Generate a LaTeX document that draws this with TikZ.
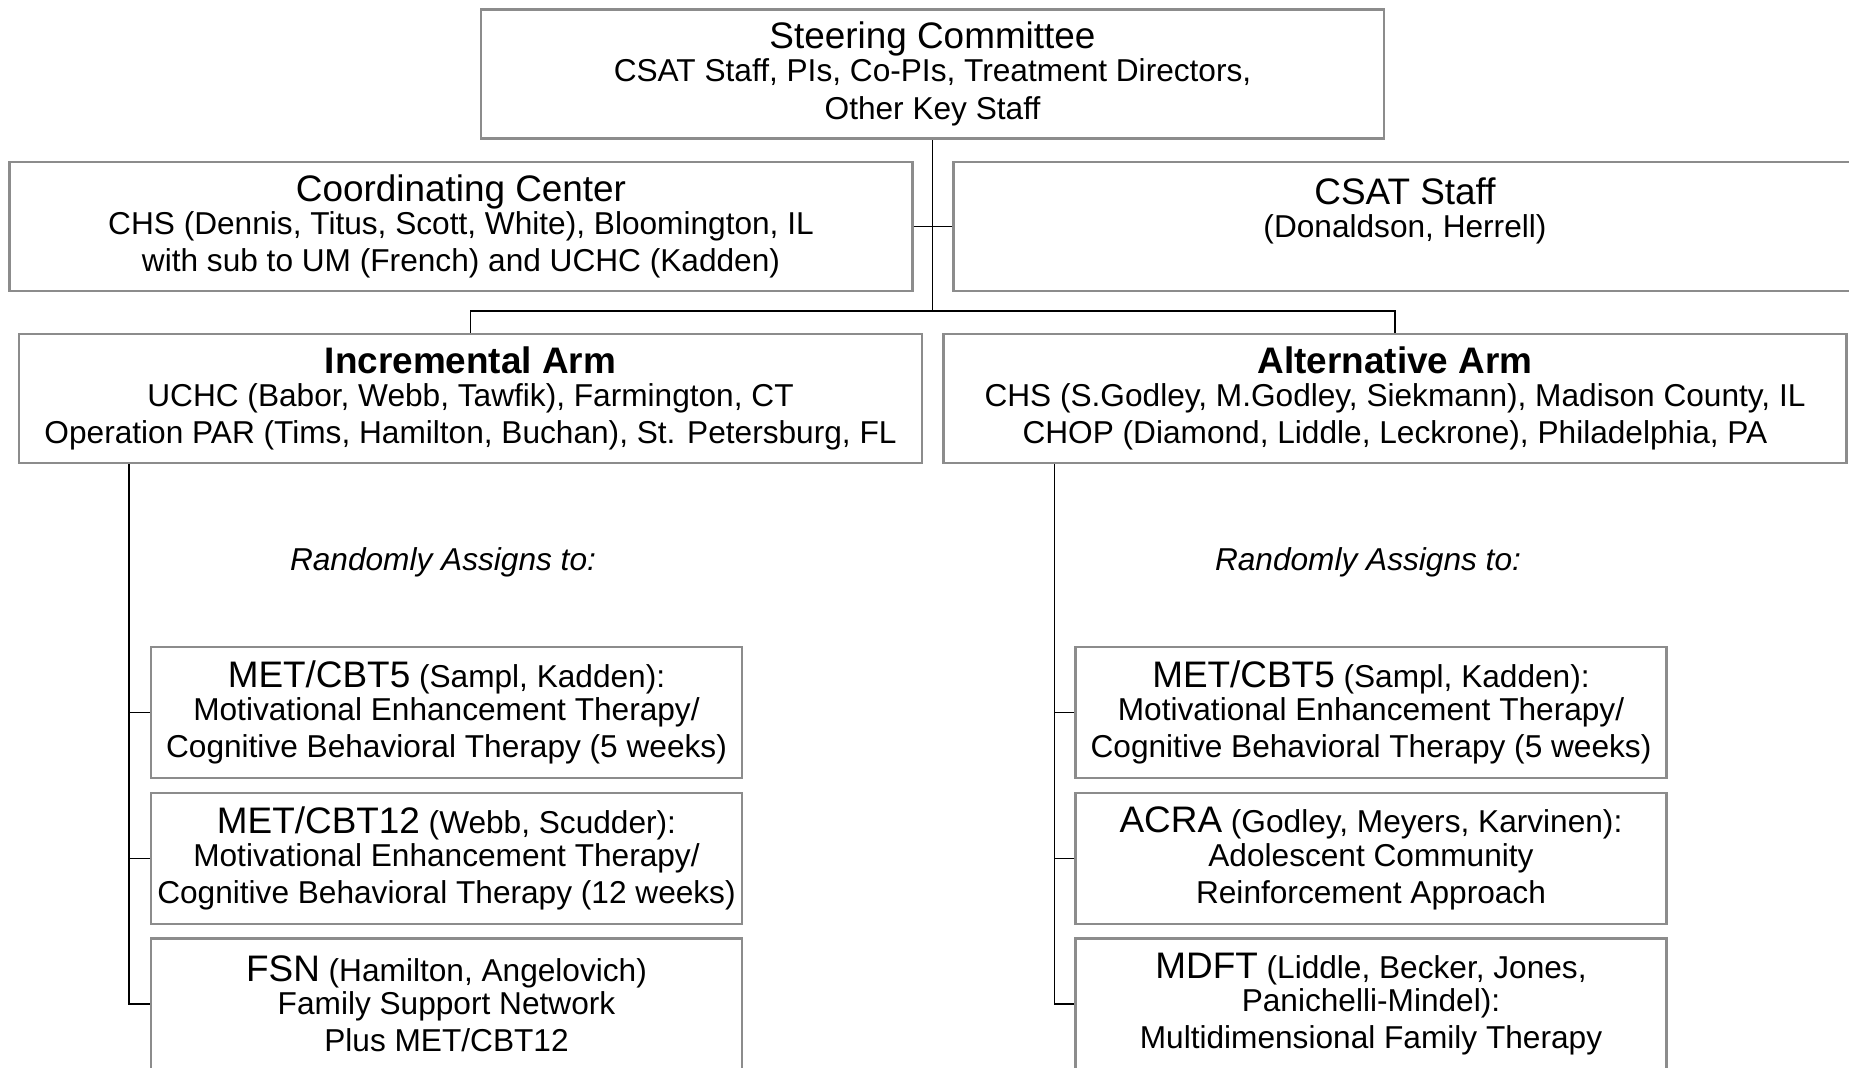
\documentclass[tikz,border=0pt]{standalone}
\usepackage{fontspec}
\setmainfont{Liberation Sans}
\usepackage{tikz}
\usetikzlibrary{positioning}

\newcommand{\headtxt}[1]{{\fontsize{10.5}{11}\selectfont #1}}

\begin{document}
\begin{tikzpicture}[
      block/.style={rectangle, draw=black!45, line width=0.6pt, fill=white, align=center, inner sep=0pt,
                    font=\fontsize{9}{10.6}\selectfont, minimum width=9.03cm, minimum height=1.29cm},
      therapy/.style={block, minimum width=5.91cm, minimum height=1.31cm},
      note/.style={font=\fontsize{9}{10.6}\selectfont\itshape},
      line/.style={draw, black, line width=0.5pt}
    ]
    \useasboundingbox (0,0) rectangle (18.49,-10.67);

    \node [block] (steer) at (9.325,-0.74) {\headtxt{Steering Committee}\\[-1.2pt]CSAT Staff, PIs, Co-PIs, Treatment Directors,\\Other Key Staff};
    \node [block] (coord) at (4.61,-2.265) {\headtxt{Coordinating Center}\\[-1.2pt]CHS (Dennis, Titus, Scott, White), Bloomington, IL\\with sub to UM (French) and UCHC (Kadden)};
    \node [block, right of=coord, node distance=9.44cm] (csat) {\headtxt{CSAT Staff}\\[-1.2pt](Donaldson, Herrell)\\\mbox{}};
    \node [block] (incr) at (4.705,-3.985) {\headtxt{\textbf{Incremental Arm}}\\[-1.2pt]UCHC (Babor, Webb, Tawfik), Farmington, CT\\Operation PAR (Tims, Hamilton, Buchan), St. Petersburg, FL};
    \node [block, right of=incr, node distance=9.245cm] (alt) {\headtxt{\textbf{Alternative Arm}}\\[-1.2pt]CHS (S.Godley, M.Godley, Siekmann), Madison County, IL\\CHOP (Diamond, Liddle, Leckrone), Philadelphia, PA};

    \node [note] (randl) at (4.43,-5.62) {Randomly Assigns to:};
    \node [note, right of=randl, node distance=9.25cm] (randr) {Randomly Assigns to:};

    \node [therapy] (metl) at (4.465,-7.125) {\headtxt{MET/CBT5} (Sampl, Kadden):\\[-1.2pt]Motivational Enhancement Therapy/\\Cognitive Behavioral Therapy (5 weeks)};
    \node [therapy, below of=metl, node distance=1.46cm] (met12) {\headtxt{MET/CBT12} (Webb, Scudder):\\[-1.2pt]Motivational Enhancement Therapy/\\Cognitive Behavioral Therapy (12 weeks)};
    \node [therapy, below of=met12, node distance=1.455cm] (fsn) {\headtxt{FSN} (Hamilton, Angelovich)\\[-1.2pt]Family Support Network\\Plus MET/CBT12};
    \node [therapy, right of=metl, node distance=9.245cm] (metr) {\headtxt{MET/CBT5} (Sampl, Kadden):\\[-1.2pt]Motivational Enhancement Therapy/\\Cognitive Behavioral Therapy (5 weeks)};
    \node [therapy, right of=met12, node distance=9.245cm] (acra) {\headtxt{ACRA} (Godley, Meyers, Karvinen):\\[-1.2pt]Adolescent Community\\Reinforcement Approach};
    \node [therapy, right of=fsn, node distance=9.245cm] (mdft) {\headtxt{MDFT} (Liddle, Becker, Jones,\\[-1.2pt]Panichelli-Mindel):\\Multidimensional Family Therapy};

    \path [line] (incr.north) -- ++(0,0.22) -| (steer.south);
    \path [line] (alt.north) -- ++(0,0.22) -| (steer.south);
    \path [line] (coord.east) -- (csat.west);

    \coordinate (ltop) at ([xshift=1.11cm]incr.south west);
    \coordinate (rtop) at ([xshift=1.12cm]alt.south west);
    \path [line] (ltop) |- (fsn.west);
    \path [line] (metl.west) -- (metl.west -| ltop);
    \path [line] (met12.west) -- (met12.west -| ltop);
    \path [line] (rtop) |- (mdft.west);
    \path [line] (metr.west) -- (metr.west -| rtop);
    \path [line] (acra.west) -- (acra.west -| rtop);

    \end{tikzpicture}
\end{document}
